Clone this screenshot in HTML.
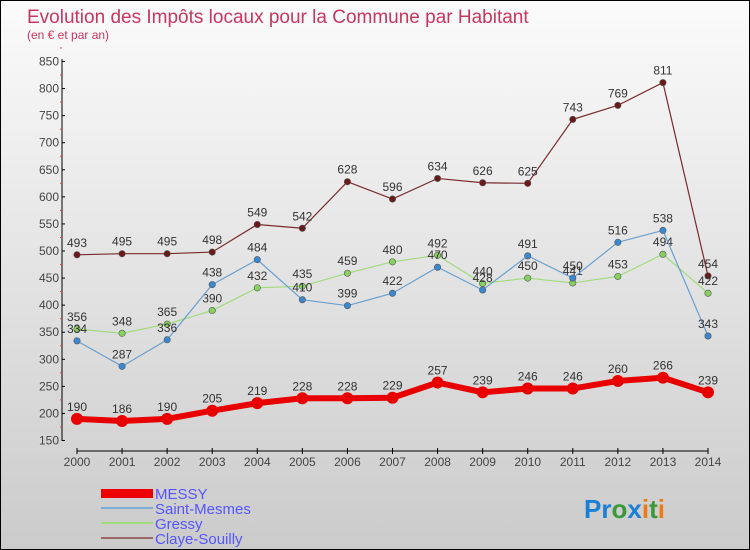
<!DOCTYPE html>
<html><head><meta charset="utf-8"><style>
html,body{margin:0;padding:0}
body{width:750px;height:550px;overflow:hidden;font-family:"Liberation Sans",sans-serif}
#wrap{position:absolute;left:0;top:0;width:748px;height:548px;border:1px solid #000;background:linear-gradient(#fbfbfb,#cbcbcb)}
</style></head><body>
<div id="wrap">
<svg id="c" width="748" height="548" style="position:absolute;left:0;top:0">
<text x="26" y="22" font-size="19" fill="#c8365e">Evolution des Impôts locaux pour la Commune par Habitant</text>
<text x="26" y="38" font-size="12" fill="#c8365e">(en € et par an)</text>
<g id="axes"></g><g id="series"></g>
<g>
<rect x="100" y="488" width="52" height="9" fill="#e00"/>
<text x="154" y="498" font-size="15" fill="#55f">MESSY</text>
<line x1="100" y1="507" x2="152" y2="507" stroke="#7aaed6" stroke-width="2"/>
<text x="154" y="513" font-size="15" fill="#55f">Saint-Mesmes</text>
<line x1="100" y1="522" x2="152" y2="522" stroke="#9fdc7c" stroke-width="2"/>
<text x="154" y="528" font-size="15" fill="#55f">Gressy</text>
<line x1="100" y1="537" x2="152" y2="537" stroke="#9a6868" stroke-width="2"/>
<text x="154" y="543" font-size="15" fill="#55f">Claye-Souilly</text>
</g>
<text x="583" y="517" font-size="26" font-weight="bold"><tspan fill="#1a7fd6">Pr</tspan><tspan fill="#3a9a3a">o</tspan><tspan fill="#1a7fd6">x</tspan><tspan fill="#f07a10">i</tspan><tspan fill="#3a9a3a">t</tspan><tspan fill="#f07a10">i</tspan></text>
</svg>
</div>
<script>
const years=[2000,2001,2002,2003,2004,2005,2006,2007,2008,2009,2010,2011,2012,2013,2014];
const yTicks=[150,200,250,300,350,400,450,500,550,600,650,700,750,800,850];
const messy=[190,186,190,205,219,228,228,229,257,239,246,246,260,266,239];
const saintMesmes=[334,287,336,438,484,410,399,422,470,428,491,450,516,538,343];
const gressy=[356,348,365,390,432,435,459,480,492,440,450,441,453,494,422];
const claye=[493,495,495,498,549,542,628,596,634,626,625,743,769,811,454];
const NS="http://www.w3.org/2000/svg";
const X=i=>76+i*(707-76)/14;
const Y=v=>439.5-(v-150)*(379/700);
function el(t,a,p){const e=document.createElementNS(NS,t);for(const k in a)e.setAttribute(k,a[k]);p.appendChild(e);return e;}
const ax=document.getElementById('axes'),se=document.getElementById('series');
let yl=el('line',{x1:61,y1:58,x2:61,y2:440,stroke:'#000'},ax);


yTicks.forEach(v=>{
 el('line',{x1:61,y1:Y(v),x2:64,y2:Y(v),stroke:'#000'},ax);
 el('line',{x1:59,y1:Y(v+25),x2:61,y2:Y(v+25),stroke:'#e44'},ax);
 const t=el('text',{x:58,y:Y(v)+4,'font-size':12,'text-anchor':'end',fill:'#444'},ax);
 t.textContent=v;
 
 
});
let xl=el('line',{x1:76,y1:450,x2:707,y2:450,stroke:'#000'},ax);


years.forEach((y,i)=>{
 el('line',{x1:X(i),y1:447,x2:X(i),y2:453,stroke:'#000'},ax);
 const t=el('text',{x:X(i),y:465,'font-size':12,'text-anchor':'middle',fill:'#444'},ax);
 t.textContent=y;
 
 
});
function draw(data,name,color,dot,w,r){
 const g=el('g',{},se);
 
 
 el('polyline',{points:data.map((v,i)=>X(i)+','+Y(v)).join(' '),fill:'none',stroke:color,'stroke-width':w},g);
 data.forEach((v,i)=>{
  const c=el('circle',{cx:X(i),cy:Y(v),r:r,fill:dot,stroke:'#555','stroke-width':r>4?0:0.6},g);
  
  
  const t=el('text',{x:X(i),y:Y(v)-8,'font-size':12,'text-anchor':'middle',fill:'#333'},g);
  t.textContent=v;
  
  
 });
}
draw(claye,'claye-souilly','#7a2a2a','#6a1a1a',1.2,3.2);
draw(gressy,'gressy','#9fdc7c','#88d060',1.2,3.2);
draw(saintMesmes,'saint-mesmes','#6aa0d0','#3a88d0',1.2,3.2);
draw(messy,'messy','#e80000','#e80000',6,6);
</script>
</body></html>
